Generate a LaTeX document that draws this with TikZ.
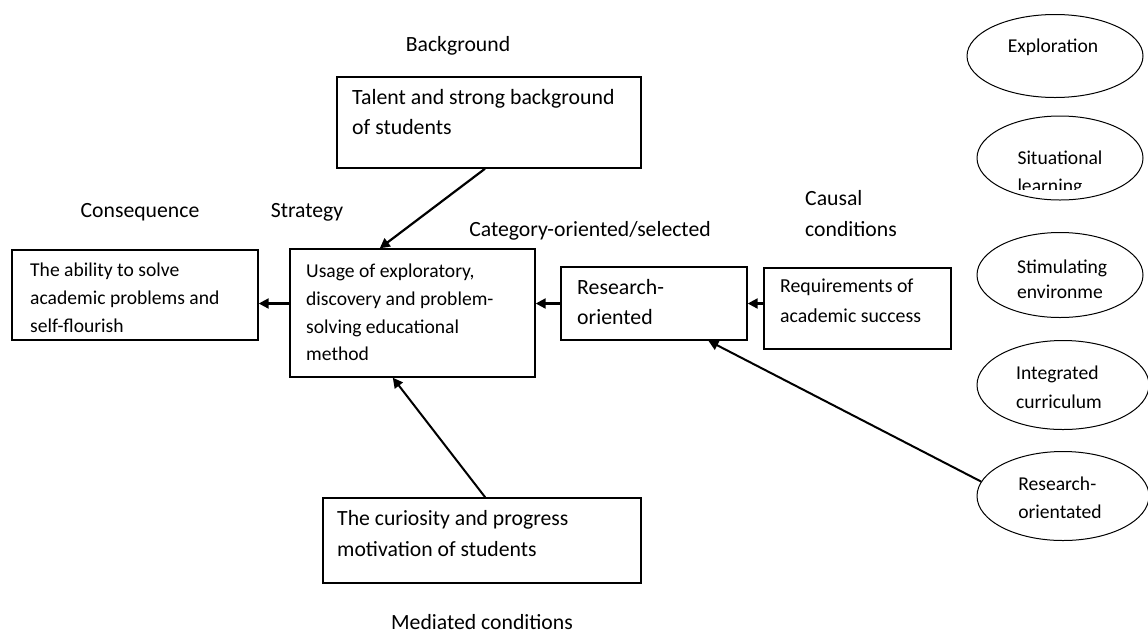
\documentclass[tikz,border=0pt]{standalone}
\usepackage{fontspec}
\setmainfont{Carlito}
\usetikzlibrary{arrows.meta,calc,shapes.geometric}
\tikzset{
  box/.style={draw, line width=1.4pt, inner sep=0pt},
  oval/.style={draw, ellipse, line width=1pt, inner sep=0pt},
  txt/.style={inner sep=0pt, anchor=north west, align=left},
  fa/.style={font=\fontsize{19.6}{27.6}\selectfont},
  fb/.style={font=\fontsize{21.8}{30}\selectfont},
  fc/.style={font=\fontsize{19.8}{29.5}\selectfont},
  fd/.style={font=\fontsize{21.7}{31}\selectfont},
  fe/.style={font=\fontsize{19.6}{28}\selectfont},
  lab/.style={inner sep=0pt, font=\fontsize{21.7}{31}\selectfont},
  arr/.style={line width=2.2pt, -{Triangle[length=10pt,width=10pt]}},
  arrthin/.style={line width=2pt, -{Triangle[length=10pt,width=10pt]}}
}
\begin{document}
\begin{tikzpicture}[x=1pt,y=-1pt]
\useasboundingbox (0,0) rectangle (1148,633);
% boxes
\node[box, minimum width=246pt, minimum height=90pt] (cons) at (135,295) {};
\node[box, minimum width=245pt, minimum height=128pt] (strat) at (412.5,313) {};
\node[box, minimum width=186pt, minimum height=73pt] (res) at (654,303.5) {};
\node[box, minimum width=187pt, minimum height=81pt] (req) at (857.5,308.5) {};
\node[box, minimum width=304pt, minimum height=91pt] (bg) at (489,122.5) {};
\node[box, minimum width=318pt, minimum height=85pt] (cur) at (482,540.5) {};
% box texts
\node[txt, fa] (consT) at (30,263) {The ability to solve\\academic problems and\\self-flourish};
\node[txt, fa] (stratT) at (306,264) {Usage of exploratory,\\discovery and problem-\\solving educational\\method};
\node[txt, fb] (resT) at (577,279.5) {Research-\\oriented};
\node[txt, fc] (reqT) at (780,279) {Requirements of\\academic success};
\node[txt, fb] (bgT) at (352,89.5) {Talent and strong background\\of students};
\node[txt, fd] (curT) at (337,510) {The curiosity and progress\\motivation of students};
% labels
\node[lab, anchor=base] (lbg) at (458,51) {Background};
\node[lab, anchor=base] (lcons) at (140,217) {Consequence};
\node[lab, anchor=base] (lstrat) at (307,217) {Strategy};
\node[lab, anchor=base] (lcat) at (590,236) {Category-oriented/selected};
\node[lab, anchor=base] (lmed) at (482,629) {Mediated conditions};
\node[lab, txt] (lcaus) at (805,190) {Causal\\conditions};
% ellipses
\node[oval, minimum width=176pt, minimum height=83pt] (e1) at (1055,56) {};
\node[oval, minimum width=166pt, minimum height=84pt] (e2) at (1060,158) {};
\node[oval, minimum width=166pt, minimum height=85pt] (e3) at (1060,275) {};
\node[oval, minimum width=172pt, minimum height=89pt] (e4) at (1063,385) {};
\node[oval, minimum width=172pt, minimum height=89pt] (e5) at (1063,496) {};
\node[txt, fe, anchor=center] (e1T) at (1053,47) {Exploration};
\begin{scope}
  \clip (980,120) rectangle (1140,189);
  \node[txt, fe, anchor=north] (e2T) at (1060,151) {Situational\\learning};
\end{scope}
\node[txt, fe, anchor=north west, font=\fontsize{19.6}{25}\selectfont] (e3T) at (1017,260) {Stimulating\\environme};
\node[txt, fe, anchor=north, font=\fontsize{19.6}{29}\selectfont] (e4T) at (1059,365.5) {Integrated\\curriculum};
\node[txt, fe, anchor=north] (e5T) at (1060,477) {Research-\\orientated};
% connectors
\draw[arr] (req.west |- res.east) -- (res.east);
\draw[arr] (res.west) -- (strat.east |- res.west);
\draw[arr] (strat.west |- res.west) -- (cons.east |- res.west);
\draw[arr] ($(bg.south west)!0.487!(bg.south east)$) -- ($(strat.north west)!0.367!(strat.north east)$);
\draw[arrthin] ($(cur.north west)!0.51!(cur.north east)$) -- ($(strat.south west)!0.42!(strat.south east)$);
\draw[arrthin] (e5.170) -- ($(res.south west)!0.79!(res.south east)$);
\end{tikzpicture}
\end{document}
